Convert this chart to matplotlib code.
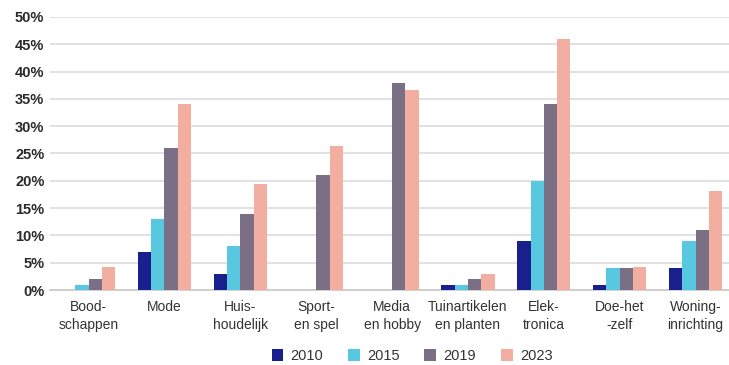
import numpy as np
import matplotlib
matplotlib.use("Agg")
import matplotlib.pyplot as plt
from matplotlib.ticker import PercentFormatter

# Data (aandeel online aankopen per categorie, %)
categories = ["Bood-\nschappen", "Mode", "Huis-\nhoudelijk", "Sport-\nen spel",
              "Media\nen hobby", "Tuinartikelen\nen planten", "Elek-\ntronica",
              "Doe-het\n-zelf", "Woning-\ninrichting"]
years = ["2010", "2015", "2019", "2023"]
v2010 = [0, 7, 3, 0, 0, 1, 9, 1, 4]
v2015 = [1, 13, 8, 0, 0, 1, 20, 4, 9]
v2019 = [2, 26, 14, 21, 38, 2, 34, 4, 11]
v2023 = [4.2, 34, 19.4, 26.4, 36.6, 2.9, 46, 4.3, 18.2]
colors = ["#1a1f8e", "#58c7e0", "#7b6f86", "#f2aea1"]

plt.rcParams['font.family'] = ['Liberation Sans', 'DejaVu Sans']

fig = plt.figure(figsize=(7.29, 3.65), dpi=100)
ax = fig.add_axes([50 / 729, 1 - 290 / 365, 1 - 50 / 729, (290 - 17) / 365])

x = np.arange(len(categories))
width = 0.175
series = [v2010, v2015, v2019, v2023]
for i, (vals, col, yr) in enumerate(zip(series, colors, years)):
    ax.bar(x + (i - 1.5) * width, vals, width=width, color=col, label=yr, zorder=3)

ax.set_ylim(0, 50)
ax.set_yticks(np.arange(0, 51, 5))
ax.yaxis.set_major_formatter(PercentFormatter(decimals=0))
ax.set_xlim(-0.509, 8.44)
ax.set_xticks(x)
ax.set_xticklabels(categories, fontsize=10, color="#333333", linespacing=1.35)

ax.grid(axis="y", color="#dcdcdc", lw=1.2, zorder=0)
for s in ["top", "right", "left"]:
    ax.spines[s].set_visible(False)
ax.spines["bottom"].set_color("#c8c8c8")
ax.spines["bottom"].set_linewidth(1.2)
ax.tick_params(axis="both", length=0)
ax.tick_params(axis="x", pad=7)
ax.tick_params(axis="y", pad=4, labelsize=10.5, labelcolor="#2a2a2a")
for lbl in ax.get_yticklabels():
    lbl.set_fontweight("bold")

fig.legend(loc="center", bbox_to_anchor=(412 / 729, 1 - 356 / 365), ncol=4,
           frameon=False, fontsize=10.5, handlelength=0.8, handleheight=0.8,
           handletextpad=0.5, columnspacing=1.7, labelcolor="#333333")

fig.savefig("out.png", dpi=100)
